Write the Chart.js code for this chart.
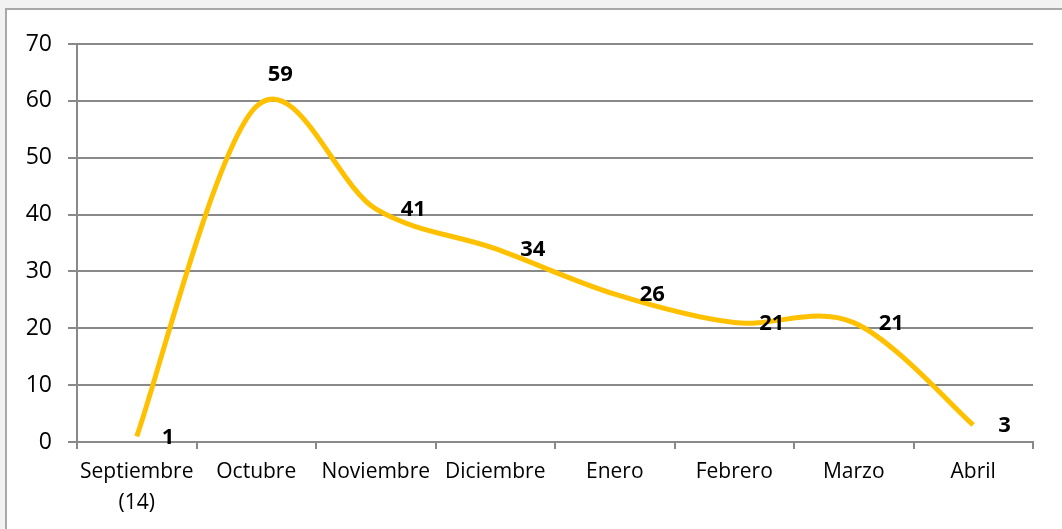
<!DOCTYPE html>
<html>
<head>
<meta charset="utf-8">
<script src="https://cdn.jsdelivr.net/npm/chart.js@4"></script>
<style>
  body { margin: 0; background: #f2f2f2; width: 1062px; height: 529px; overflow: hidden; position: relative; }
  #frame { position: absolute; left: 5px; top: 8px; width: 1100px; height: 560px; background: #fff; border: 2px solid #a8a8a8; }
  #wrap { position: absolute; left: 0; top: 0; width: 1062px; height: 529px; }
</style>
</head>
<body>
<div id="frame"></div>
<div id="wrap"><canvas id="chart"></canvas></div>
<script>
// months and values
const months = [["Septiembre", "(14)"], "Octubre", "Noviembre", "Diciembre", "Enero", "Febrero", "Marzo", "Abril"];
const counts = [1, 59, 41, 34, 26, 21, 21, 3];
const yTicks = [0, 10, 20, 30, 40, 50, 60, 70];

const fontFamily = "'Open Sans', Lato, sans-serif";

// Excel-like smoothing: catmull-rom control points (neighbour difference / 6)
const excelSmooth = {
  id: "excelSmooth",
  beforeDatasetDraw(chart, args) {
    const line = args.meta.dataset;
    line.updateControlPoints(chart.chartArea);
    const pts = args.meta.data;
    const n = pts.length;
    for (let i = 0; i < n; i++) {
      const prev = pts[Math.max(i - 1, 0)];
      const next = pts[Math.min(i + 1, n - 1)];
      const dx = (next.x - prev.x) / 6;
      const dy = (next.y - prev.y) / 6;
      pts[i].cp1x = pts[i].x - dx;
      pts[i].cp1y = pts[i].y - dy;
      pts[i].cp2x = pts[i].x + dx;
      pts[i].cp2y = pts[i].y + dy;
    }
  }
};

// draw the value next to each point (label on the right)
const valueLabels = {
  id: "valueLabels",
  afterDatasetsDraw(chart) {
    const ctx = chart.ctx;
    const meta = chart.getDatasetMeta(0);
    ctx.save();
    ctx.font = "bold 22px " + fontFamily;
    ctx.fillStyle = "#000";
    ctx.textBaseline = "middle";
    meta.data.forEach((pt, i) => {
      const v = chart.data.datasets[0].data[i];
      if (i === 1) {
        // the peak label sits above the curve
        ctx.textAlign = "center";
        ctx.fillText(v, pt.x + 24, pt.y - 32);
      } else {
        ctx.textAlign = "left";
        ctx.fillText(v, pt.x + 25, pt.y + 1);
      }
    });
    ctx.restore();
  }
};

new Chart(document.getElementById("chart"), {
  type: "line",
  data: {
    labels: months,
    datasets: [{
      data: counts,
      borderColor: "#ffc000",
      borderWidth: 5,
      tension: 0.4,
      pointRadius: 0,
      fill: false
    }]
  },
  options: {
    responsive: true,
    maintainAspectRatio: false,
    animation: false,
    layout: { padding: { left: 10, right: 29, top: 44, bottom: 0 } },
    plugins: { legend: { display: false }, tooltip: { enabled: false } },
    scales: {
      x: {
        offset: true,
        afterFit(scale) { scale.height = 87; },
        grid: { offset: true, drawOnChartArea: false, color: "#898989", lineWidth: 2, tickLength: 7 },
        border: { color: "#898989", width: 2 },
        ticks: { color: "#000", font: { family: fontFamily, size: 21, lineHeight: 1.45 }, padding: 8, maxRotation: 0, autoSkip: false }
      },
      y: {
        min: 0,
        max: 70,
        afterFit(scale) { scale.width = 67; },
        afterBuildTicks(scale) { scale.ticks = yTicks.map(v => ({ value: v })); },
        grid: { color: "#898989", lineWidth: 2, tickLength: 9 },
        border: { color: "#898989", width: 2 },
        ticks: { color: "#000", font: { family: fontFamily, size: 23 }, padding: 16 }
      }
    }
  },
  plugins: [excelSmooth, valueLabels]
});
</script>
</body>
</html>
